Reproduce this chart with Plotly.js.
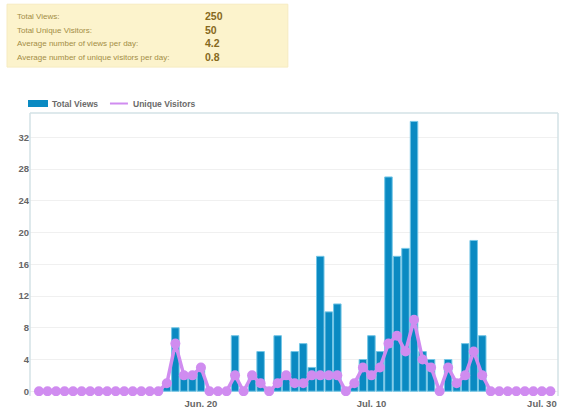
<!DOCTYPE html>
<html>
<head>
<meta charset="utf-8">
<script src="https://cdn.plot.ly/plotly-3.0.1.min.js"></script>
<style>html,body{margin:0;padding:0;background:#fff;}#chart{width:561px;height:411px;}</style>
</head>
<body>
<div id="chart"></div>
<script>
// ---- data ----
var startDate = '2011-06-01';
var dayCount = 61;
var totalViews = [
  0,0,0,0,0,0,0,0,0,0,0,0,0,0,0,
  1,8,2,2,3,0,0,0,7,0,2,5,0,7,2,
  5,6,3,17,10,11,0,1,4,7,5,27,17,18,34,
  5,4,0,4,1,6,19,7,0,0,0,0,0,0,0,0
];
var uniqueVisitors = [
  0,0,0,0,0,0,0,0,0,0,0,0,0,0,0,
  1,6,2,2,3,0,0,0,2,0,2,1,0,1,2,
  1,1,2,2,2,2,0,1,3,2,3,6,7,5,9,
  4,3,0,3,1,2,5,2,0,0,0,0,0,0,0,0
];
var tickDates = ['2011-06-20', '2011-07-10', '2011-07-30'];
var tickLabels = ['Jun. 20', 'Jul. 10', 'Jul. 30'];
var yTicks = [0, 4, 8, 12, 16, 20, 24, 28, 32];
var statLabels = ['Total Views:', 'Total Unique Visitors:', 'Average number of views per day:', 'Average number of unique visitors per day:'];
var statValues = ['250', '50', '4.2', '0.8'];
var seriesNames = ['Total Views', 'Unique Visitors'];

// ---- build dates ----
var dates = [];
(function(){
  var d0 = new Date(startDate + 'T00:00:00Z');
  for (var i = 0; i < dayCount; i++) {
    var d = new Date(d0.getTime() + i * 86400000);
    dates.push(d.toISOString().slice(0, 10));
  }
})();

// ---- layout geometry (pixels) ----
var W = 561, H = 411;
var plotL = 30, plotR = 558.3, plotT = 113, plotB = 396.5;
function px(x){ return (x - plotL) / (plotR - plotL); }
function py(y){ return (plotB - y) / (plotB - plotT); }

var barColor = '#0a8ac2';
var lineColor = '#d08cf0';
var font = 'Liberation Sans, Arial, sans-serif';

var traces = [
  {
    type: 'bar', x: dates, y: totalViews, name: seriesNames[0],
    marker: {color: barColor, line: {color: '#74c6e6', width: 1}},
    hoverinfo: 'skip', showlegend: false
  },
  {
    type: 'scatter', mode: 'lines+markers', x: dates, y: uniqueVisitors, name: seriesNames[1],
    line: {color: lineColor, width: 3.5},
    marker: {color: lineColor, size: 10},
    hoverinfo: 'skip', showlegend: false
  }
];

var shapes = [
  // stats box
  {type: 'rect', xref: 'paper', yref: 'paper', x0: px(7), x1: px(288), y0: py(4), y1: py(67),
   fillcolor: '#fcf3cc', line: {color: '#f6ebc0', width: 1}, layer: 'below'},
  // plot frame: left, top, right
  {type: 'line', xref: 'paper', yref: 'paper', x0: 0, x1: 0, y0: 0, y1: 1, line: {color: '#d3e2e6', width: 1.5}},
  {type: 'line', xref: 'paper', yref: 'paper', x0: 0, x1: 1, y0: 1, y1: 1, line: {color: '#d3e2e6', width: 1.5}},
  {type: 'line', xref: 'paper', yref: 'paper', x0: 1, x1: 1, y0: 0, y1: 1, line: {color: '#d3e2e6', width: 1.5}},
  // legend swatches
  {type: 'rect', xref: 'paper', yref: 'paper', x0: px(28), x1: px(48), y0: py(107), y1: py(100),
   fillcolor: barColor, line: {width: 0}},
  {type: 'line', xref: 'paper', yref: 'paper', x0: px(110), x1: px(128), y0: py(103.5), y1: py(103.5),
   line: {color: lineColor, width: 2}}
];

var annotations = [];
var rowY = [16, 30, 43, 57];
for (var i = 0; i < statLabels.length; i++) {
  annotations.push({xref: 'paper', yref: 'paper', x: px(15), y: py(rowY[i]), xanchor: 'left', yanchor: 'middle',
    text: statLabels[i], showarrow: false, font: {family: font, size: 8, color: '#a38d45'}});
  annotations.push({xref: 'paper', yref: 'paper', x: px(203), y: py(rowY[i]), xanchor: 'left', yanchor: 'middle',
    text: statValues[i], showarrow: false, font: {family: font, size: 10.5, color: '#86691c', weight: 'bold'}});
}
annotations.push({xref: 'paper', yref: 'paper', x: px(50), y: py(103.5), xanchor: 'left', yanchor: 'middle',
  text: seriesNames[0], showarrow: false, font: {family: font, size: 8.5, color: '#6a6a6a', weight: 'bold'}});
annotations.push({xref: 'paper', yref: 'paper', x: px(131), y: py(103.5), xanchor: 'left', yanchor: 'middle',
  text: seriesNames[1], showarrow: false, font: {family: font, size: 8.5, color: '#6a6a6a', weight: 'bold'}});

var layout = {
  width: W, height: H,
  margin: {l: plotL, r: W - plotR, t: plotT, b: H - plotB, pad: 0},
  paper_bgcolor: '#ffffff', plot_bgcolor: '#ffffff',
  bargap: 0.12,
  showlegend: false,
  hovermode: false,
  xaxis: {
    type: 'date',
    range: ['2011-05-30 22:41', '2011-07-31 21:21'],
    tickmode: 'array', tickvals: tickDates, ticktext: tickLabels,
    showgrid: false, zeroline: false, showline: false, ticks: '',
    tickfont: {family: font, size: 9.5, color: '#666666', weight: 'bold'}
  },
  yaxis: {
    range: [-0.6, 35.06],
    tickmode: 'array', tickvals: yTicks,
    showgrid: true, gridcolor: '#f0f0f0', gridwidth: 1,
    zeroline: false, showline: false, ticks: '',
    tickfont: {family: font, size: 9.5, color: '#666666', weight: 'bold'}
  },
  shapes: shapes,
  annotations: annotations
};

Plotly.newPlot('chart', traces, layout, {displayModeBar: false, staticPlot: true});
</script>
</body>
</html>
